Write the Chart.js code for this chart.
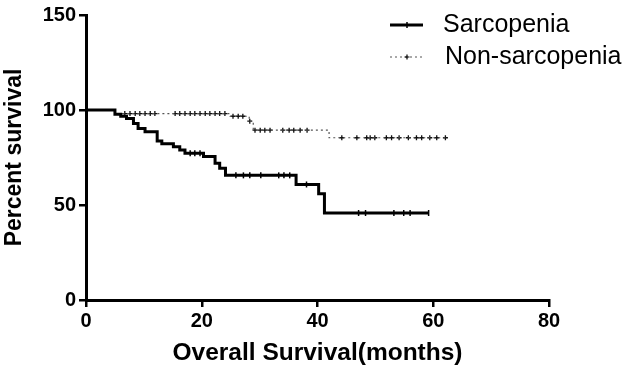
<!DOCTYPE html>
<html>
<head>
<meta charset="utf-8">
<script src="https://cdn.jsdelivr.net/npm/chart.js@4"></script>
<style>
  html, body { margin: 0; padding: 0; background: #fff; }
</style>
</head>
<body>
<canvas id="kmChart" width="624" height="370"></canvas>
<script>
// Kaplan-Meier steps (months, percent)
const sarcTimes = [0, 5, 6, 7, 8.2, 9, 10.2, 12.3, 13.1, 15.1, 16.2, 17.1, 20.3, 22.3, 23.1, 24.1, 36.3, 40.2, 41.2, 59.2];
const sarcSurvival = [100, 97.8, 96.7, 95.5, 92.9, 90.3, 88.5, 83.7, 82.3, 80.7, 79, 77.2, 75.5, 72, 69.4, 65.6, 60.8, 55.9, 45.8, 45.8];
const sarcCensored = [18, 18.8, 19.7, 25.9, 27.2, 28.3, 30.2, 33.3, 34.2, 35.2, 38.1, 47.1, 48.3, 53.2, 54.9, 56, 59.2];

const nonTimes = [0, 5, 24.9, 28.2, 28.9, 42, 62.3];
const nonSurvival = [100, 98.1, 96.7, 94.1, 89.4, 85.4, 85.4];
const nonCensored = [6.7, 7.6, 8.5, 9.3, 10.2, 11.1, 11.9, 15.4, 16.2, 17.1, 18, 18.8, 19.7, 20.6, 21.4, 22.3, 23.1, 24,
  25.4, 26.3, 27.1, 28.3, 29.2, 30.1, 30.9, 31.8, 34, 35.1, 35.9, 37, 38.2,
  44.2, 46.8, 48.5, 49.1, 49.9, 51.9, 52.8, 54.1, 55.7, 57.1, 58, 59.4, 60.6, 62.1];

const xTicks = [0, 20, 40, 60, 80];
const yTicks = [0, 50, 100, 150];
const seriesNames = ['Sarcopenia', 'Non-sarcopenia'];

function toPoints(times, values) {
  return times.map((t, i) => ({ x: t, y: values[i] }));
}

// survival level of a step curve at time t (for placing censor marks)
function levelAt(times, values, t) {
  let v = values[0];
  for (let i = 0; i < times.length; i++) {
    if (times[i] <= t) v = values[i];
  }
  return v;
}

function censorPoints(censored, times, values) {
  return censored.map(t => ({ x: t, y: levelAt(times, values, t) }));
}

const legendPlugin = {
  id: 'kmLegend',
  afterDraw(chart) {
    const ctx = chart.ctx;
    ctx.save();
    // solid
    ctx.strokeStyle = '#000';
    ctx.lineWidth = 3;
    ctx.setLineDash([]);
    ctx.beginPath();
    ctx.moveTo(390, 25);
    ctx.lineTo(423, 25);
    ctx.stroke();
    ctx.lineWidth = 1.5;
    ctx.beginPath();
    ctx.moveTo(407, 22);
    ctx.lineTo(407, 28);
    ctx.stroke();
    // dotted
    ctx.strokeStyle = '#555';
    ctx.lineWidth = 1.2;
    ctx.setLineDash([2, 3]);
    ctx.beginPath();
    ctx.moveTo(390, 57);
    ctx.lineTo(423, 57);
    ctx.stroke();
    ctx.setLineDash([]);
    ctx.strokeStyle = '#000';
    ctx.beginPath();
    ctx.moveTo(407, 54.5);
    ctx.lineTo(407, 59.5);
    ctx.moveTo(404.5, 57);
    ctx.lineTo(409.5, 57);
    ctx.stroke();

    ctx.fillStyle = '#000';
    ctx.font = '25px "Liberation Sans", Arial, sans-serif';
    ctx.textBaseline = 'middle';
    ctx.fillText(seriesNames[0], 443, 25);
    ctx.fillText(seriesNames[1], 445, 57);
    ctx.restore();
  }
};

new Chart(document.getElementById('kmChart'), {
  type: 'line',
  data: {
    datasets: [
      {
        label: seriesNames[0],
        data: toPoints(sarcTimes, sarcSurvival),
        stepped: 'before',
        borderColor: '#000',
        borderWidth: 3,
        pointRadius: 0,
        fill: false,
      },
      {
        label: seriesNames[1],
        data: toPoints(nonTimes, nonSurvival),
        stepped: 'before',
        borderColor: '#555',
        borderWidth: 1.2,
        borderDash: [2, 3],
        pointRadius: 0,
        fill: false,
      },
      {
        label: 'sarc-censored',
        data: censorPoints(sarcCensored, sarcTimes, sarcSurvival),
        showLine: false,
        pointStyle: 'line',
        rotation: 90,
        pointRadius: 3,
        borderColor: '#000',
        borderWidth: 1.5,
      },
      {
        label: 'non-censored',
        data: censorPoints(nonCensored, nonTimes, nonSurvival),
        showLine: false,
        pointStyle: 'cross',
        pointRadius: 2.5,
        borderColor: '#111',
        borderWidth: 1.3,
      },
    ],
  },
  options: {
    responsive: false,
    animation: false,
    devicePixelRatio: 1,
    layout: { padding: { top: 12, right: 75, left: 0, bottom: 0 } },
    plugins: {
      legend: { display: false },
      tooltip: { enabled: false },
    },
    scales: {
      x: {
        type: 'linear',
        min: 0,
        max: 80,
        afterBuildTicks: scale => { scale.ticks = xTicks.map(v => ({ value: v })); },
        afterFit: scale => { scale.height = 70; },
        ticks: {
          color: '#000',
          font: { family: '"Liberation Sans", Arial, sans-serif', size: 20, weight: 'bold' },
          padding: 2,
          maxRotation: 0,
        },
        grid: { drawOnChartArea: false, drawTicks: true, tickLength: 7, color: '#000', lineWidth: 2.5 },
        border: { display: true, color: '#000', width: 3 },
        title: {
          display: true,
          text: 'Overall Survival(months)',
          color: '#000',
          font: { family: '"Liberation Sans", Arial, sans-serif', size: 24.5, weight: 'bold' },
          padding: { top: 0, bottom: 2 },
        },
      },
      y: {
        min: 0,
        max: 150,
        afterBuildTicks: scale => { scale.ticks = yTicks.map(v => ({ value: v })); },
        afterFit: scale => { scale.width = 86; },
        ticks: {
          color: '#000',
          font: { family: '"Liberation Sans", Arial, sans-serif', size: 20, weight: 'bold' },
          padding: 3,
        },
        grid: { drawOnChartArea: false, drawTicks: true, tickLength: 7, color: '#000', lineWidth: 2.5 },
        border: { display: true, color: '#000', width: 3 },
        title: {
          display: true,
          text: 'Percent survival',
          color: '#000',
          font: { family: '"Liberation Sans", Arial, sans-serif', size: 23, weight: 'bold' },
          padding: { top: 1, bottom: 0 },
        },
      },
    },
  },
  plugins: [legendPlugin],
});
</script>
</body>
</html>
